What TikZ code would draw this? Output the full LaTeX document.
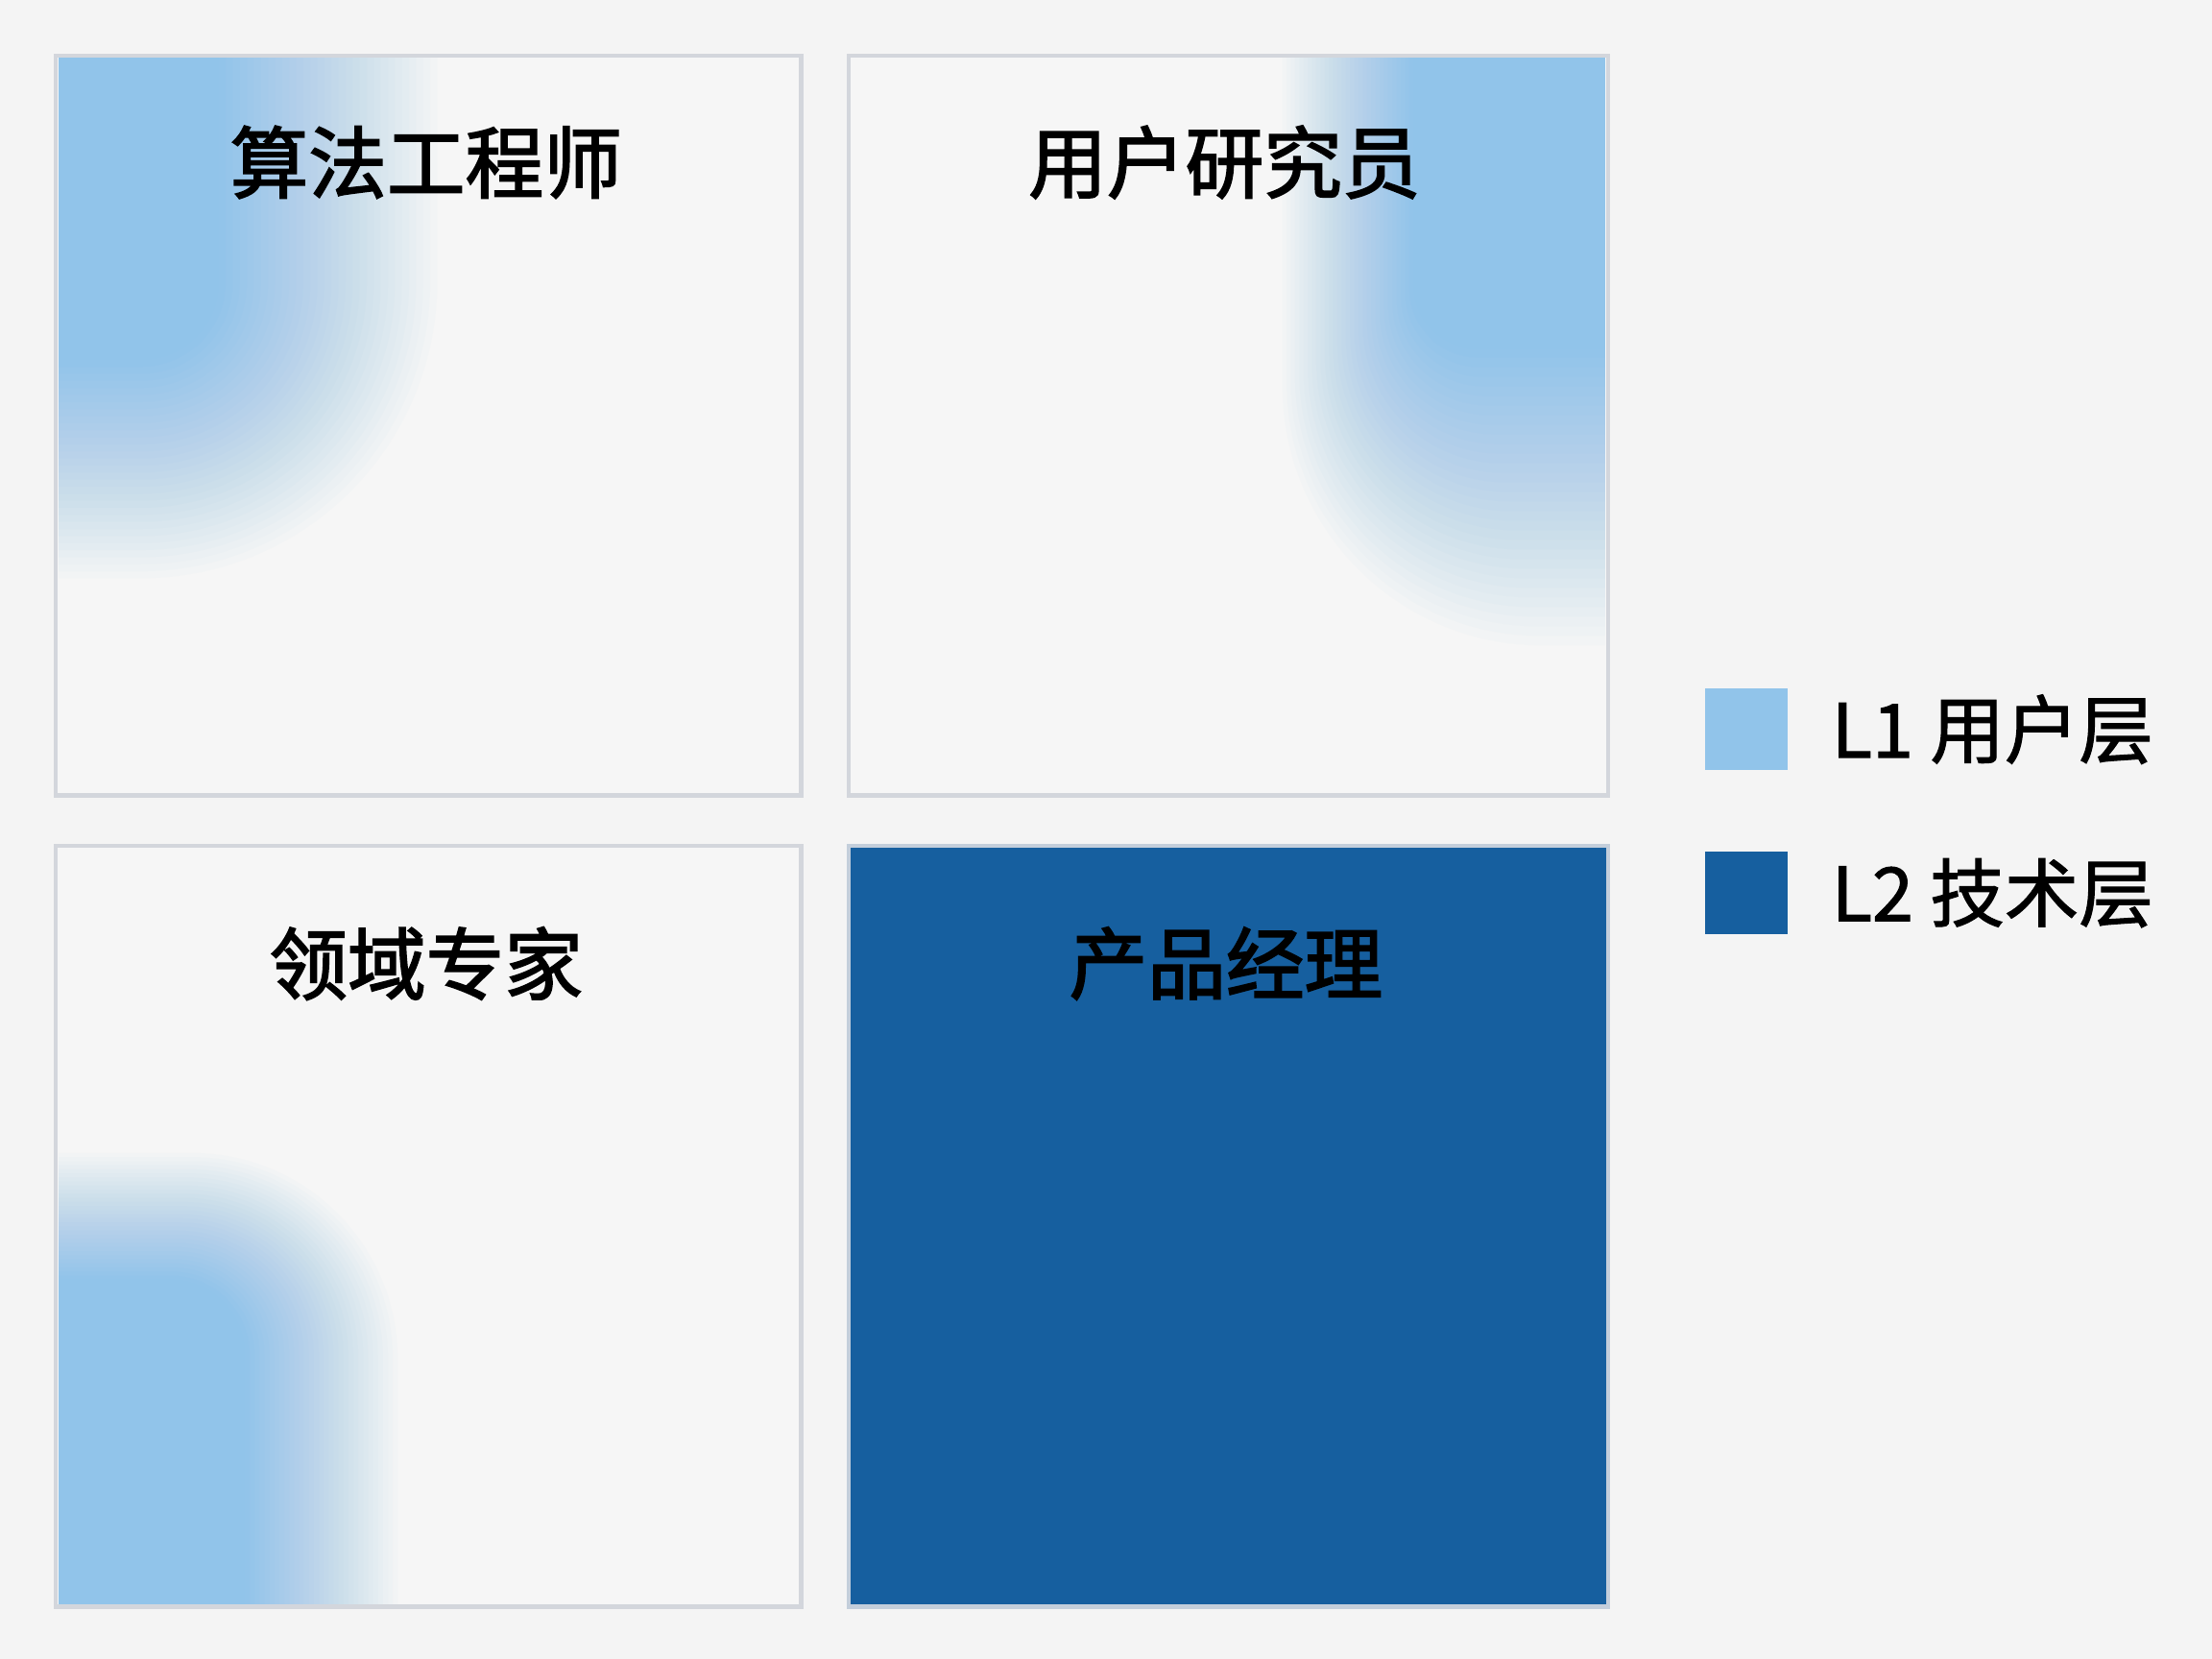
\documentclass[tikz,border=0pt]{standalone}
\usepackage{fontspec}
\setmainfont{Noto Sans CJK SC}
\newfontfamily\titlefont{Noto Sans CJK SC}[FakeBold=2.2]
\newfontfamily\keyfont{Noto Sans CJK SC}[FakeBold=1.4]
\usepackage{xcolor}
\usepackage{tikz}
\usetikzlibrary{positioning}
\definecolor{pagebg}{HTML}{F4F4F4}
\definecolor{panelbg}{HTML}{F6F6F6}
\definecolor{edge}{HTML}{D3D6DC}
\definecolor{softblue}{HTML}{91C4EA}
\definecolor{deepblue}{HTML}{165F9F}
\definecolor{deepedge}{HTML}{C3CEDB}

\begin{document}
\begin{tikzpicture}[x=0.01cm,y=-0.01cm,
  panel/.style={draw=edge, fill=panelbg, line width=0.85pt, anchor=north west, inner sep=0pt},
  haze/.style={fill=softblue, fill opacity=#1},
  title/.style={font=\titlefont\fontsize{15.8}{19}\selectfont, text=black, inner sep=0pt},
  key/.style={minimum size=0.58cm, inner sep=0pt},
  keytext/.style={font=\keyfont\fontsize{15}{18}\selectfont, text=black, inner sep=0pt, anchor=west}]
\useasboundingbox[fill=pagebg] (0,0) rectangle (1568,1176);
% four panels
\node[panel, minimum width=5.28cm, minimum height=5.24cm] (algo) at (38,38) {};
\node[panel, minimum width=5.38cm, minimum height=5.24cm] (user) at (600,38) {};
\node[panel, minimum width=5.28cm, minimum height=5.39cm] (domain) at (38,598) {};
\node[panel, minimum width=5.38cm, minimum height=5.39cm, fill=deepblue, draw=deepedge] (product) at (600,598) {};
% soft blue corners: layers from outside in, opacity 1/i gives a linear fade
\begin{scope}
\clip ([xshift=1pt,yshift=-1pt]algo.north west) rectangle ([xshift=-1pt,yshift=1pt]algo.south east);
\foreach \i in {32,...,1}{
  \pgfmathsetmacro\op{1/\i}
  \pgfmathsetmacro\rc{0.5+\i*0.05}
  \fill[haze=\op, rounded corners=\rc cm] ({-100-\i*5},{-100-\i*5}) rectangle ({150+\i*5},{250+\i*5});
}
\end{scope}
\begin{scope}
\clip ([xshift=1pt,yshift=-1pt]user.north west) rectangle ([xshift=-1pt,yshift=1pt]user.south east);
\foreach \i in {32,...,1}{
  \pgfmathsetmacro\op{1/\i}
  \pgfmathsetmacro\rc{0.4+\i*0.045}
  \fill[haze=\op, rounded corners=\rc cm] ({1005-\i*3},{-100-\i*6.8}) rectangle ({1240+\i*3},{240+\i*6.8});
}
\end{scope}
\begin{scope}
\clip ([xshift=1pt,yshift=-1pt]domain.north west) rectangle ([xshift=-1pt,yshift=1pt]domain.south east);
\foreach \i in {32,...,1}{
  \pgfmathsetmacro\op{1/\i}
  \pgfmathsetmacro\rc{0.5+\i*0.03}
  \fill[haze=\op, rounded corners=\rc cm] ({-100-\i*3.5},{910-\i*2.9}) rectangle ({170+\i*3.5},{1300+\i*2.9});
}
\end{scope}
% titles
\node[title] (algot) at (302,115) {算法工程师};
\node[title] (usert) at (868,115) {用户研究员};
\node[title] (domaint) at (302,683) {领域专家};
\node[title] (productt) at (869,683) {产品经理};
% legend
\node[key, fill=softblue] (l1key) at (1238,517) {};
\node[keytext, right=0.3cm of l1key] (l1text) {L1 用户层};
\node[key, fill=deepblue] (l2key) at (1238,633) {};
\node[keytext, right=0.3cm of l2key] (l2text) {L2 技术层};
\end{tikzpicture}
\end{document}
